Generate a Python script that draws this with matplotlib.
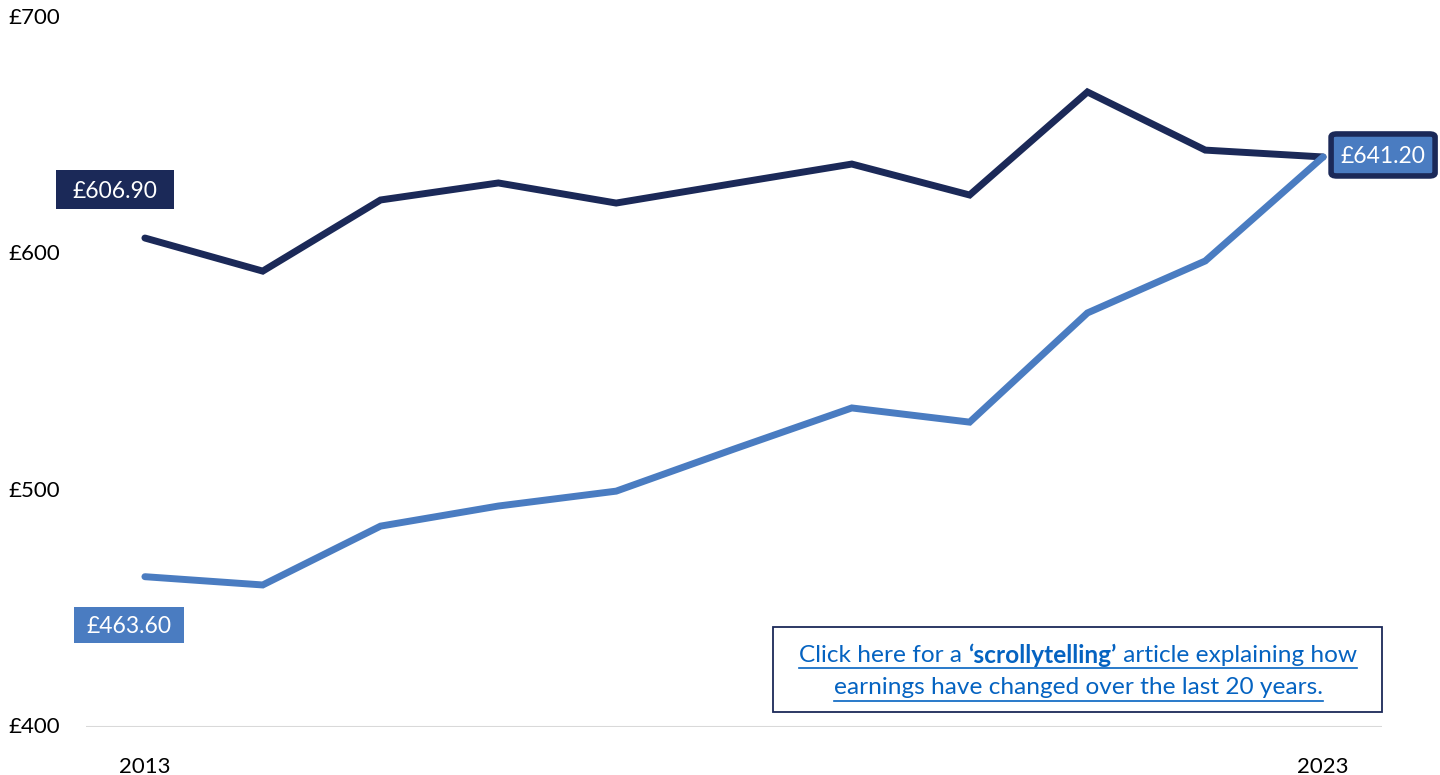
import numpy as np
import matplotlib
matplotlib.use('Agg')
import matplotlib.pyplot as plt
from matplotlib.lines import Line2D
from matplotlib.patches import Rectangle, FancyBboxPatch

#######################################################
Years      = [2013, 2014, 2015, 2016, 2017, 2018, 2019, 2020, 2021, 2022, 2023]
Dark_Vals  = [606.9, 592.9, 623.0, 630.2, 621.7, 630.0, 638.2, 625.1, 668.7, 644.1, 641.2]
Light_Vals = [463.6, 460.1, 485.0, 493.5, 499.8, 517.6, 535.0, 529.0, 575.2, 597.2, 641.2]
Y_Ticks    = [400, 500, 600, 700]
Y_Labels   = ['£400', '£500', '£600', '£700']
X_Labels   = {0: '2013', 10: '2023'}

Dark_Colour  = '#1B2958'
Light_Colour = '#4A7CC1'
Link_Colour  = '#0563C1'
Font_Name    = 'Lato'
Font_Size    = 16
#######################################################

plt.rcParams['font.family'] = [Font_Name, 'DejaVu Sans']

W, H = 1440, 775
fig = plt.figure(figsize=(W/100, H/100), dpi=100)
ax = fig.add_axes([86/W, 1 - 727/H, (1382 - 86)/W, (727 - 18)/H])

x = np.arange(len(Years))
ax.plot(x, Dark_Vals,  color=Dark_Colour,  lw=5, solid_capstyle='round', solid_joinstyle='miter', zorder=3)
ax.plot(x, Light_Vals, color=Light_Colour, lw=5, solid_capstyle='round', solid_joinstyle='miter', zorder=3)

ax.set_xlim(-0.5, len(Years) - 0.5)
ax.set_ylim(400, 700)
ax.axhline(400, color='#D9D9D9', lw=1.5, zorder=1)

for side in ['top', 'right', 'left', 'bottom']:
    ax.spines[side].set_visible(False)

ax.set_yticks(Y_Ticks)
ax.set_yticklabels([])
ax.tick_params(left=False, bottom=False)
for v, lab in zip(Y_Ticks, Y_Labels):
    ax.text(8/W, ax.transData.transform((0, v))[1] / H, lab, transform=fig.transFigure,
            ha='left', va='center', fontsize=Font_Size, color='black')

ax.set_xticks(list(X_Labels.keys()))
ax.set_xticklabels(list(X_Labels.values()), fontsize=Font_Size)
ax.tick_params(axis='x', pad=18)

fig.canvas.draw()
renderer = fig.canvas.get_renderer()

# data labels: box centred at an offset (pixels) from the data point
def data_label(xi, yv, dx, dy, box_w, box_h, fc, ec=None, lw=0, rounded=False):
    px, py = ax.transData.transform((xi, yv))
    cx, cy = px + dx, py + dy
    if rounded:
        patch = FancyBboxPatch(((cx - box_w/2)/W, (cy - box_h/2)/H), box_w/W, box_h/H,
                               boxstyle='round,pad=0,rounding_size=0.004', transform=fig.transFigure,
                               fc=fc, ec=ec, lw=lw, zorder=4)
    else:
        patch = Rectangle(((cx - box_w/2)/W, (cy - box_h/2)/H), box_w/W, box_h/H,
                          transform=fig.transFigure, fc=fc, ec='none', zorder=4)
    fig.patches.append(patch)
    fig.text(cx/W, cy/H, '£%.2f' % yv, ha='center', va='center_baseline', color='white',
             fontsize=Font_Size + 0.5, zorder=5)

data_label(x[0], Dark_Vals[0], -30, 49, 118, 39, Dark_Colour)
data_label(x[0], Light_Vals[0], -16, -48, 110, 36, Light_Colour)
data_label(x[-1], Light_Vals[-1], 60, 2, 104, 42, Light_Colour, Dark_Colour, 4, rounded=True)

# link box
fig.patches.append(Rectangle((773/W, 1 - 712/H), (1382 - 773)/W, (712 - 627)/H,
                             transform=fig.transFigure, fill=False, ec=Dark_Colour, lw=1.3))

Link_Size = 17.6
Centre_X = 1078

def place_line(parts, y_px):
    texts = []
    for s, w in parts:
        t = fig.text(0, 1 - y_px/H, s, fontsize=Link_Size, color=Link_Colour, fontweight=w,
                     ha='left', va='center')
        texts.append(t)
    widths = [t.get_window_extent(renderer).width for t in texts]
    total = sum(widths)
    left = Centre_X - total / 2
    pos = left
    for t, w in zip(texts, widths):
        t.set_x(pos / W)
        pos += w
    fig.add_artist(Line2D([left/W, (left + total)/W], [1 - (y_px + 13)/H] * 2,
                          transform=fig.transFigure, color=Link_Colour, lw=1.2))

place_line([('Click here for a ', 'normal'), ('\u2018scrollytelling\u2019', 'bold'),
            (' article explaining how', 'normal')], 655)
place_line([('earnings have changed over the last 20 years.', 'normal')], 688)

fig.savefig('out.png', dpi=100)
